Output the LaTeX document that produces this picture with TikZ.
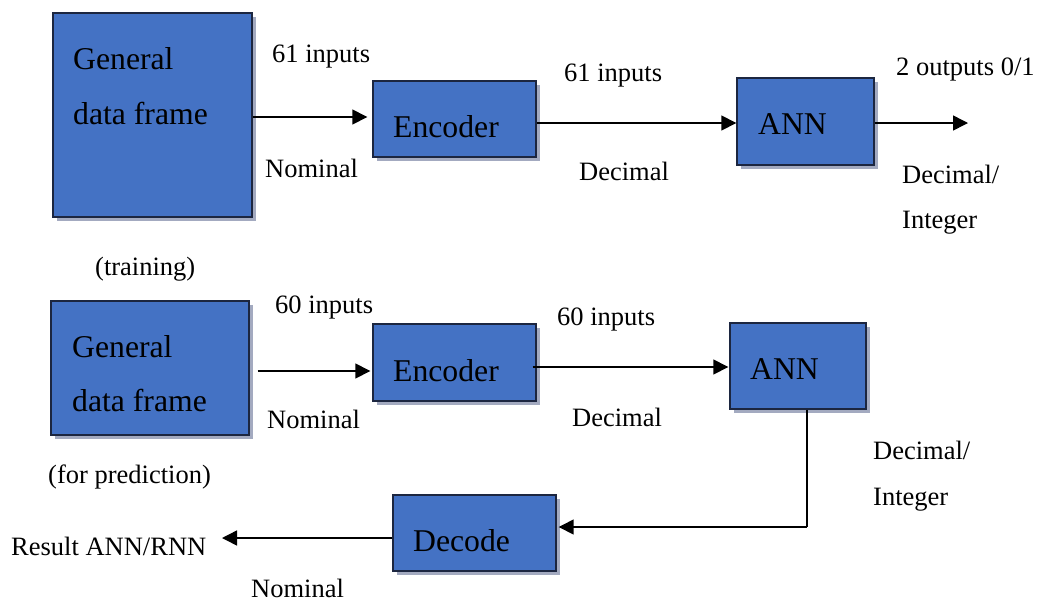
\documentclass[tikz,border=0pt]{standalone}
\usepackage{fontspec}
\setmainfont{Liberation Serif}
\usetikzlibrary{arrows.meta}
\definecolor{boxblue}{HTML}{4472C4}
\definecolor{boxedge}{HTML}{1C2640}
\definecolor{boxshade}{HTML}{A3AAC0}
\tikzset{
  block/.style={draw=boxedge, line width=1.4pt, fill=boxblue, inner sep=0pt,
    drop shadow={shadow xshift=3.5pt, shadow yshift=-3.5pt, fill=boxshade, opacity=1}},
  boxtext/.style={anchor=base west, inner sep=0pt, font=\fontsize{31.7}{38}\selectfont},
  lbl/.style={anchor=base west, inner sep=0pt, font=\fontsize{26.5}{32}\selectfont},
  arr/.style={line width=1.5pt, -{Triangle[length=15pt,width=15pt]}},
  wire/.style={line width=1.5pt}
}
\usetikzlibrary{shadows}
\newcommand{\blockat}[5]{%
  \node[block, minimum width={(#4-#2)*1pt}, minimum height={(#5-#3)*1pt}]
    (#1) at ({(#2+#4)/2},{(#3+#5)/2}) {};}
\begin{document}
\begin{tikzpicture}[x=1pt,y=-1pt]
\useasboundingbox (0,0) rectangle (1038,603);

% blocks: name, left, top, right, bottom
\blockat{gdfA}{53}{13}{252}{217}
\blockat{encA}{373}{81}{536}{157}
\blockat{annA}{737}{78}{874}{165}
\blockat{gdfB}{51}{301}{249}{435}
\blockat{encB}{373}{324}{536}{401}
\blockat{annB}{730}{323}{866}{409}
\blockat{dec}{393}{495}{556}{571}

% block captions
\node[boxtext] (tA1) at (73,69) {General};
\node[boxtext] (tA2) at (73,124) {data frame};
\node[boxtext] (tA3) at (393,137) {Encoder};
\node[boxtext] (tA4) at (758,134) {ANN};
\node[boxtext] (tB1) at (72,357) {General};
\node[boxtext] (tB2) at (72,411) {data frame};
\node[boxtext] (tB3) at (393,381) {Encoder};
\node[boxtext] (tB4) at (750,379) {ANN};
\node[boxtext] (tB5) at (413,551) {Decode};

% training chain
\coordinate (outA) at (968,123);
\draw[arr] (gdfA.east |- 0,117) -- ([xshift=-5pt]encA.west |- 0,117);
\draw[arr] (encA.east |- 0,123) -- (annA.west |- 0,123);
\draw[arr] (annA.east |- 0,123) -- (outA);

% prediction chain
\coordinate (turn) at (807,527);
\coordinate (resB) at (222,538);
\draw[arr] ([xshift=8pt]gdfB.east |- 0,371) -- ([xshift=-2pt]encB.west |- 0,371);
\draw[arr] ([xshift=-4pt]encB.east |- 0,367) -- ([xshift=-1pt]annB.west |- 0,367);
\draw[wire] (annB.south -| turn) -- (turn);
\draw[arr] (turn) -- ([xshift=2pt]dec.east |- turn);
\draw[arr] (dec.west |- resB) -- (resB);

% labels
\node[lbl] (l1) at (272,62) {61 inputs};
\node[lbl] (l2) at (265,177) {Nominal};
\node[lbl] (l3) at (564,81) {61 inputs};
\node[lbl] (l4) at (579,180) {Decimal};
\node[lbl] (l5) at (896,75) {2 outputs 0/1};
\node[lbl] (l6) at (902,183) {Decimal/};
\node[lbl] (l7) at (902,228) {Integer};
\node[lbl] (l8) at (95,275) {(training)};
\node[lbl] (l9) at (275,313) {60 inputs};
\node[lbl] (l10) at (267,428) {Nominal};
\node[lbl] (l11) at (557,325) {60 inputs};
\node[lbl] (l12) at (572,426) {Decimal};
\node[lbl] (l13) at (48,483) {(for prediction)};
\node[lbl] (l14) at (873,459) {Decimal/};
\node[lbl] (l15) at (873,505) {Integer};
\node[lbl] (l16) at (11,555) {Result ANN/RNN};
\node[lbl] (l17) at (251,597) {Nominal};
\end{tikzpicture}
\end{document}
